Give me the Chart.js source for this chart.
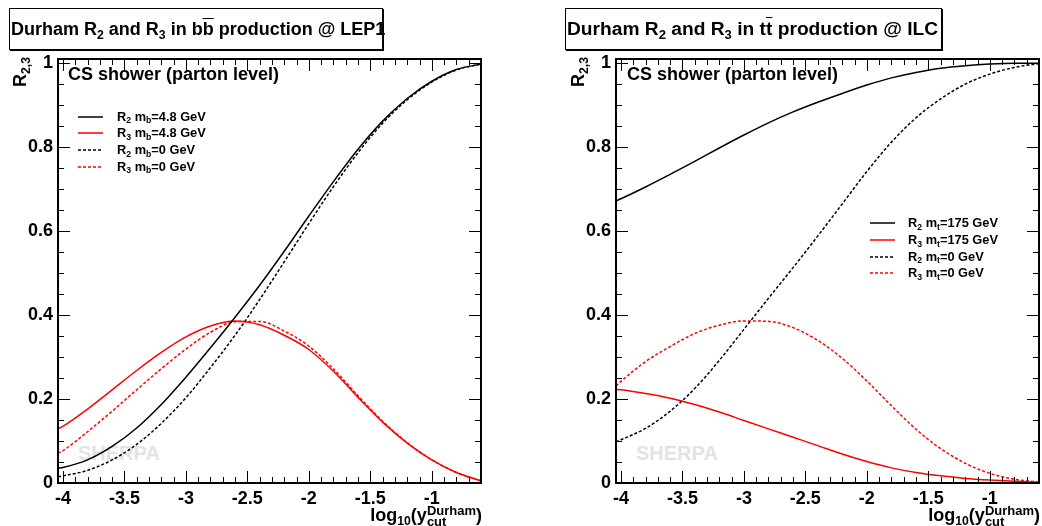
<!DOCTYPE html>
<html>
<head>
<meta charset="utf-8">
<script src="https://cdn.jsdelivr.net/npm/chart.js@4.4.1/dist/chart.umd.min.js"></script>
<style>
  html, body { margin: 0; padding: 0; background: #fff; }
  body { width: 1042px; height: 526px; position: relative; overflow: hidden;
         font-family: 'Liberation Sans', Arial, Helvetica, sans-serif; font-weight: bold; color: #000; }
  .abs { position: absolute; white-space: nowrap; }
  .title { border: 1px solid #000; box-shadow: 1px 1px 0 #000; font-size: 18px; line-height: 40px;
           height: 40px; padding-left: 1px; background: #fff; box-sizing: content-box; }
  .sb { font-size: 0.68em; position: relative; top: 0.3em; }
  .ob { text-decoration: overline; }
  .ytitle { font-size: 18px; line-height: 18px; width: 60px; text-align: right;
            transform: rotate(-90deg); transform-origin: top left; }
  .xtitle { font-size: 18px; line-height: 20px; text-align: right; }
  .ss { display: inline-block; vertical-align: -5px; font-size: 13px; line-height: 11px; text-align: left; }
  .label { font-size: 18px; line-height: 18px; }
  .sherpa { font-size: 20px; line-height: 20px; color: #e3e3e3; }
  .leg { font-size: 12.8px; line-height: 14px; }
  .legline svg { display: block; }
</style>
</head>
<body>
<div class="abs sherpa" style="left:78px; top:443px;">SHERPA</div>
<div class="abs sherpa" style="left:636px; top:443px;">SHERPA</div>

<div class="abs" style="left:0; top:0;"><canvas id="lep-chart" width="521" height="526"></canvas></div>
<div class="abs" style="left:558px; top:0;"><canvas id="ilc-chart" width="484" height="526"></canvas></div>

<div class="abs title" style="left:9px; top:8px; width:371px;">Durham R<span class="sb">2</span> and R<span class="sb">3</span> in b<span class="ob">b</span> production @ LEP1</div>
<div class="abs title" style="left:565px; top:8px; width:374px; font-size:19.2px;">Durham R<span class="sb">2</span> and R<span class="sb">3</span> in t<span class="ob">t</span> production @ ILC</div>

<div class="abs label" style="left:68px; top:65px;">CS shower (parton level)</div>
<div class="abs label" style="left:627px; top:65px;">CS shower (parton level)</div>

<div class="abs ytitle" style="left:11px; top:117px;">R<span class="sb">2,3</span></div>
<div class="abs ytitle" style="left:569px; top:117px;">R<span class="sb">2,3</span></div>

<div class="abs xtitle" style="right:560px; top:505px;">log<span class="sb">10</span>(y<span class="ss">Durham<br>cut</span>)</div>
<div class="abs xtitle" style="right:2px; top:505px;">log<span class="sb">10</span>(y<span class="ss">Durham<br>cut</span>)</div>

<div id="lep-legend"></div>
<div id="ilc-legend"></div>

<script>
// x positions: log10(y_cut)
const xValues = [-4.04, -4.0, -3.8, -3.6, -3.4, -3.2, -3.0, -2.8, -2.6, -2.4, -2.2, -2.0, -1.8, -1.6, -1.4, -1.2, -1.0, -0.8, -0.6];

// b bbar @ LEP1
const lepR2Massive  = [0.035, 0.037, 0.055, 0.087, 0.131, 0.187, 0.252, 0.322, 0.395, 0.471, 0.552, 0.636, 0.718, 0.795, 0.862, 0.916, 0.957, 0.985, 0.998];
const lepR3Massive  = [0.129, 0.135, 0.176, 0.222, 0.268, 0.311, 0.348, 0.374, 0.386, 0.377, 0.352, 0.318, 0.266, 0.204, 0.145, 0.095, 0.055, 0.025, 0.005];
const lepR2Massless = [0.015, 0.017, 0.030, 0.055, 0.092, 0.142, 0.203, 0.275, 0.352, 0.437, 0.527, 0.618, 0.706, 0.787, 0.857, 0.913, 0.955, 0.984, 0.998];
const lepR3Massless = [0.071, 0.077, 0.122, 0.171, 0.222, 0.272, 0.319, 0.359, 0.384, 0.385, 0.362, 0.326, 0.272, 0.208, 0.147, 0.096, 0.055, 0.025, 0.005];

// t tbar @ ILC
const ilcR2Massive  = [0.672, 0.677, 0.705, 0.735, 0.766, 0.798, 0.829, 0.858, 0.884, 0.907, 0.928, 0.948, 0.965, 0.978, 0.988, 0.994, 0.998, 1.000, 1.000];
const ilcR3Massive  = [0.223, 0.222, 0.213, 0.202, 0.187, 0.169, 0.149, 0.129, 0.109, 0.089, 0.069, 0.051, 0.036, 0.025, 0.017, 0.011, 0.007, 0.004, 0.002];
const ilcR2Massless = [0.098, 0.103, 0.130, 0.171, 0.225, 0.292, 0.366, 0.440, 0.513, 0.588, 0.665, 0.742, 0.812, 0.870, 0.915, 0.950, 0.974, 0.990, 0.999];
const ilcR3Massless = [0.231, 0.242, 0.289, 0.325, 0.356, 0.376, 0.386, 0.385, 0.370, 0.340, 0.297, 0.243, 0.184, 0.128, 0.082, 0.047, 0.023, 0.009, 0.002];

const lepLabels = ['R<span class="sb">2</span> m<span class="sb">b</span>=4.8 GeV', 'R<span class="sb">3</span> m<span class="sb">b</span>=4.8 GeV',
                   'R<span class="sb">2</span> m<span class="sb">b</span>=0 GeV', 'R<span class="sb">3</span> m<span class="sb">b</span>=0 GeV'];
const ilcLabels = ['R<span class="sb">2</span> m<span class="sb">t</span>=175 GeV', 'R<span class="sb">3</span> m<span class="sb">t</span>=175 GeV',
                   'R<span class="sb">2</span> m<span class="sb">t</span>=0 GeV', 'R<span class="sb">3</span> m<span class="sb">t</span>=0 GeV'];

const xTickValues = [-4, -3.5, -3, -2.5, -2, -1.5, -1];
const xTickLabels = ['-4', '-3.5', '-3', '-2.5', '-2', '-1.5', '-1'];
const yTickValues = [0, 0.2, 0.4, 0.6, 0.8, 1];
const yTickLabels = ['0', '0.2', '0.4', '0.6', '0.8', '1'];

const tickFont = { family: "'Liberation Sans', Arial, sans-serif", size: 18, weight: 'bold' };

// ROOT style frame with ticks pointing inwards
const frameTicks = {
    id: 'frameTicks',
    afterDraw(chart) {
        const ctx = chart.ctx;
        const a = chart.chartArea;
        const xs = chart.scales.x, ys = chart.scales.y;
        ctx.save();
        ctx.strokeStyle = '#000';
        ctx.lineWidth = 1;
        ctx.beginPath();
        for (let i = 0; i <= 34; i++) {
            const v = Math.round((-4 + i * 0.1) * 10) / 10;
            const len = (i % 5 === 0) ? 12 : 6;
            const px = Math.round(xs.getPixelForValue(v)) + 0.5;
            ctx.moveTo(px, a.bottom); ctx.lineTo(px, a.bottom - len);
            ctx.moveTo(px, a.top); ctx.lineTo(px, a.top + len);
        }
        for (let j = 0; j <= 20; j++) {
            const v = j * 0.05;
            const len = (j % 4 === 0) ? 12 : 6;
            const py = Math.round(ys.getPixelForValue(v)) + 0.5;
            ctx.moveTo(a.left, py); ctx.lineTo(a.left + len, py);
            ctx.moveTo(a.right, py); ctx.lineTo(a.right - len, py);
        }
        ctx.stroke();
        ctx.lineWidth = 2;
        ctx.strokeRect(a.left, a.top, a.right - a.left, a.bottom - a.top);
        ctx.restore();
    }
};

function makeSeries(values, labels) {
    return [
        { label: labels[0], values: values[0], color: '#000000', dash: [] },
        { label: labels[1], values: values[1], color: '#ff0000', dash: [] },
        { label: labels[2], values: values[2], color: '#000000', dash: [3, 2] },
        { label: labels[3], values: values[3], color: '#ff0000', dash: [3, 2] }
    ];
}

function createChart(chartId, series, padRight) {
    var ctx = document.getElementById(chartId).getContext('2d');
    return new Chart(ctx, {
        type: 'line',
        data: {
            datasets: series.map(s => ({
                label: s.label,
                data: xValues.map((x, i) => ({ x: x, y: s.values[i] })),
                borderColor: s.color,
                borderWidth: 1.5,
                borderDash: s.dash,
                pointRadius: 0,
                fill: false,
                cubicInterpolationMode: 'monotone'
            }))
        },
        options: {
            responsive: false,
            animation: false,
            devicePixelRatio: 1,
            layout: { padding: { top: 59, right: padRight, bottom: 0, left: 0 } },
            plugins: { legend: { display: false }, tooltip: { enabled: false } },
            scales: {
                x: {
                    type: 'linear', min: -4.04, max: -0.6,
                    grid: { display: false, drawTicks: false },
                    border: { display: false },
                    afterBuildTicks: s => { s.ticks = xTickValues.map(v => ({ value: v })); },
                    afterFit: s => { s.height = 43; },
                    ticks: { padding: 5, font: tickFont, color: '#000', autoSkip: false, maxRotation: 0,
                             callback: (v, i) => xTickLabels[i] }
                },
                y: {
                    type: 'linear', min: 0, max: 1.01,
                    grid: { display: false, drawTicks: false },
                    border: { display: false },
                    afterBuildTicks: s => { s.ticks = yTickValues.map(v => ({ value: v })); },
                    afterFit: s => { s.width = 58; },
                    ticks: { padding: 5, font: tickFont, color: '#000', autoSkip: false,
                             callback: (v, i) => yTickLabels[i] }
                }
            }
        },
        plugins: [frameTicks]
    });
}

function buildLegend(containerId, series, lineX, textX, firstY) {
    var box = document.getElementById(containerId);
    series.forEach(function (s, i) {
        var cy = firstY + i * 16.67;
        var dash = s.dash.length ? ' stroke-dasharray="' + s.dash.join(' ') + '"' : '';
        var line = document.createElement('div');
        line.className = 'abs legline';
        line.style.left = lineX + 'px';
        line.style.top = (cy - 2) + 'px';
        line.innerHTML = '<svg width="25" height="4"><line x1="0" y1="2" x2="25" y2="2" stroke="' + s.color +
            '" stroke-width="1.5"' + dash + '/></svg>';
        box.appendChild(line);
        var txt = document.createElement('div');
        txt.className = 'abs leg';
        txt.style.left = textX + 'px';
        txt.style.top = (cy - 7) + 'px';
        txt.innerHTML = s.label;
        box.appendChild(txt);
    });
}

var lepSeries = makeSeries([lepR2Massive, lepR3Massive, lepR2Massless, lepR3Massless], lepLabels);
var ilcSeries = makeSeries([ilcR2Massive, ilcR3Massive, ilcR2Massless, ilcR3Massless], ilcLabels);

createChart('lep-chart', lepSeries, 40);
createChart('ilc-chart', ilcSeries, 3);
buildLegend('lep-legend', lepSeries, 78, 117, 116.7);
buildLegend('ilc-legend', ilcSeries, 870, 908, 223.3);
</script>
</body>
</html>
